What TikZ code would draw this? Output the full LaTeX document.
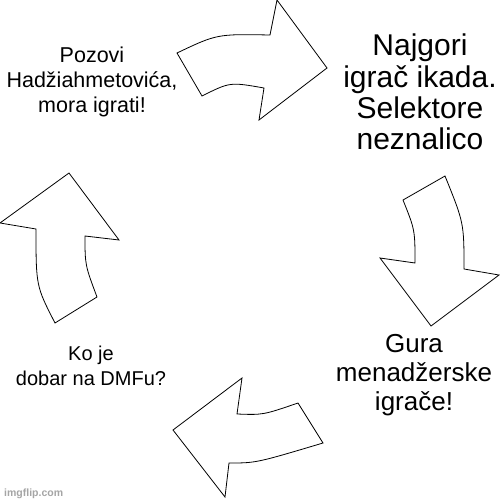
\documentclass[tikz,border=0pt]{standalone}
\usepackage{fontspec}
\setmainfont{Liberation Sans}
\usepackage{tikz}
\usetikzlibrary{backgrounds}
\definecolor{markgray}{RGB}{165,165,165}
\newcommand{\picsize}{500}
% arrow outlines, in pixels of the picture
\newcommand{\cyctop}{
  (177,53) .. controls (217,34) .. (270,35) -- (277,0) -- (327,68)
  -- (259,120) -- (264,88) .. controls (230,82) .. (202,96) -- cycle
}
\newcommand{\cycright}{
  (403,200) -- (445,176) .. controls (464,223) .. (464,269) -- (499,275)
  -- (431,326) -- (380,258) -- (415,263) .. controls (415,230) .. (403,200) -- cycle
}
\newcommand{\cycbottom}{
  (298,403) -- (323,443) .. controls (256,463) .. (229,463) -- (225,497)
  -- (173,430) -- (242,378) -- (237,414) .. controls (263,415) .. (298,403) -- cycle
}
\newcommand{\cycleft}{
  (55,323) -- (97,297) .. controls (85,265) .. (85,236) -- (119,240)
  -- (69,173) -- (0,223) -- (36,229) .. controls (36,286) .. (55,323) -- cycle
}
\tikzset{
  cyclearrow/.style={draw=black, fill=white, line width=0.8pt, line join=miter},
  saying/.style={anchor=base, align=center, inner sep=0pt},
}
\begin{document}
\begin{tikzpicture}[x=1pt,y=-1pt]
    \useasboundingbox (0,0) rectangle (\picsize,\picsize);
    \begin{scope}[on background layer]
      \fill[white] (0,0) rectangle (\picsize,\picsize);
    \end{scope}
    % the four arrows of the cycle
    \draw[cyclearrow] \cyctop;
    \draw[cyclearrow] \cycright;
    \draw[cyclearrow] \cycbottom;
    \draw[cyclearrow] \cycleft;
    % sayings, placed by the baseline of their last line
    \node[saying, font={\fontsize{21.5}{25}\selectfont}] (call) at (92,113)
      {Pozovi\\Hadžiahmetovića,\\mora igrati!};
    \node[saying, font={\fontsize{30}{31}\selectfont}] (worst) at (420,149)
      {Najgori\\igrač ikada.\\Selektore\\neznalico};
    \node[saying, font={\fontsize{26}{29}\selectfont}] (push) at (414,410)
      {Gura\\menadžerske\\igrače!};
    \node[saying, font={\fontsize{20}{25}\selectfont}] (who) at (91,385)
      {Ko je\\dobar na DMFu?};
    \node[anchor=base west, inner sep=0pt, text=markgray,
      font={\fontsize{10.5}{12}\selectfont\bfseries}] (mark) at (4,496) {imgflip.com};
\end{tikzpicture}
\end{document}
